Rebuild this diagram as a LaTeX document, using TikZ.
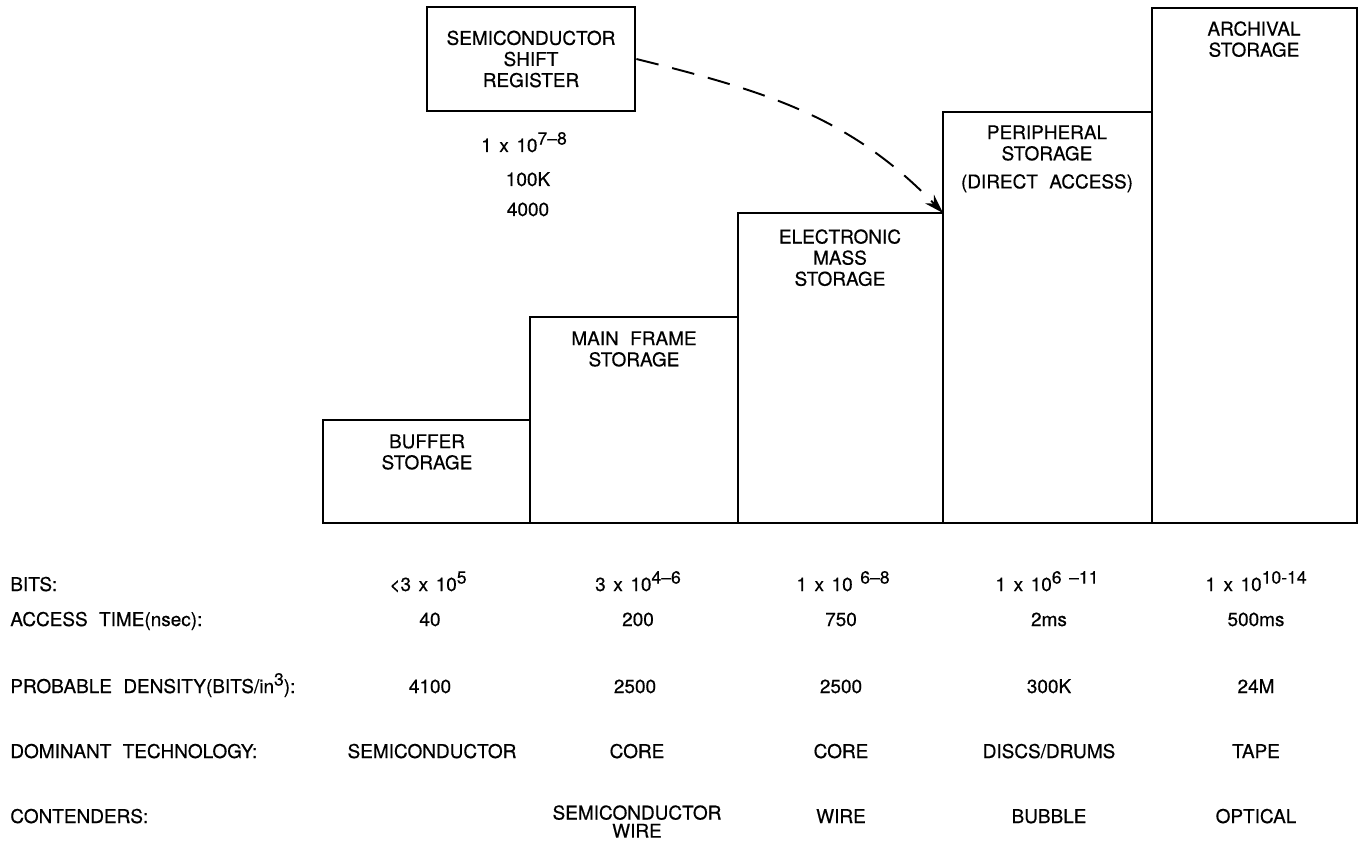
\documentclass[tikz,border=0pt]{standalone}
\usepackage{fontspec}
\setmainfont{TeX Gyre Heros}[FakeBold=0.5]
\usetikzlibrary{arrows.meta}
\newcommand{\up}[1]{\raisebox{0.75ex}{\fontsize{10}{10}\selectfont #1}}
\newcommand{\lettering}{\fontsize{10.8}{12}\selectfont\spaceskip=0.6em\relax}
\newcommand{\letteringnum}{\fontsize{10.8}{12}\selectfont\spaceskip=0.4em\relax}
\newcommand{\letteringtight}{\fontsize{10.8}{8.8}\selectfont\spaceskip=0.6em\relax}

\begin{document}
\begin{tikzpicture}[x=0.02cm,y=-0.02cm,
  bar/.style={line width=1.6pt},
  txt/.style={font=\lettering, align=center, inner sep=0pt},
  rowlbl/.style={txt, anchor=base west},
  val/.style={txt, font=\letteringnum, anchor=base}]
\useasboundingbox (0,0) rectangle (1359,841);

% storage levels
\draw[bar] (323,523) rectangle (530,420);
\draw[bar] (530,523) rectangle (738,317);
\draw[bar] (738,523) rectangle (943,213);
\draw[bar] (943,523) rectangle (1152,112);
\draw[bar] (1152,523) rectangle (1357,8);
\coordinate (emtop) at (943,213);

\node[txt, anchor=north] (buf) at (427,434) {BUFFER\\STORAGE};
\node[txt, anchor=north] (main) at (634,331) {MAIN FRAME\\STORAGE};
\node[txt, anchor=north] (emass) at (840,229) {ELECTRONIC\\MASS\\STORAGE};
\node[txt, anchor=north] (periph) at (1047,125) {PERIPHERAL\\STORAGE\\[4pt](DIRECT ACCESS)};
\node[txt, anchor=north] (arch) at (1254,21) {ARCHIVAL\\STORAGE};

% shift register
\node[txt, draw, bar, minimum width=4.16cm, minimum height=2.08cm] (shift) at (531,59) {SEMICONDUCTOR\\SHIFT\\REGISTER};
\node[val] (sbits) at (524,152) {1 x 10\up{7--8}};
\node[val] (sacc) at (528,186) {100K};
\node[val] (sden) at (528,216) {4000};
\draw[line width=1.1pt, dash pattern=on 13pt off 8pt, -{Stealth[length=11pt,width=7pt]}]
  (shift.east) to[out=-14,in=134] (emtop);

% table
\node[rowlbl] (lbits) at (10,591) {BITS:};
\node[rowlbl] (lacc) at (10,626) {ACCESS TIME(nsec):};
\node[rowlbl] (lden) at (10,693) {PROBABLE DENSITY(BITS/in\up{3}):};
\node[rowlbl] (ltech) at (10,758) {DOMINANT TECHNOLOGY:};
\node[rowlbl] (lcont) at (10,823) {CONTENDERS:};

\node[val] (b1) at (428,591) {<3 x 10\up{5}};
\node[val] (b2) at (638,591) {3 x 10\up{4--6}};
\node[val] (b3) at (843,591) {1 x 10 \up{6--8}};
\node[val] (b4) at (1047,591) {1 x 10\up{6 --11}};
\node[val] (b5) at (1256,591) {1 x 10\up{10-14}};

\node[val] (a1) at (430,626) {40};
\node[val] (a2) at (638,626) {200};
\node[val] (a3) at (841,626) {750};
\node[val] (a4) at (1049,626) {2ms};
\node[val] (a5) at (1256,626) {500ms};

\node[val] (d1) at (430,693) {4100};
\node[val] (d2) at (635,693) {2500};
\node[val] (d3) at (841,693) {2500};
\node[val] (d4) at (1049,693) {300K};
\node[val] (d5) at (1256,693) {24M};

\node[val] (t1) at (432,758) {SEMICONDUCTOR};
\node[val] (t2) at (637,758) {CORE};
\node[val] (t3) at (841,758) {CORE};
\node[val] (t4) at (1049,758) {DISCS/DRUMS};
\node[val] (t5) at (1256,758) {TAPE};

\node[txt, anchor=north, font=\letteringtight] (c2) at (637,805) {SEMICONDUCTOR\\[1.5pt]WIRE};
\node[val] (c3) at (841,823) {WIRE};
\node[val] (c4) at (1049,823) {BUBBLE};
\node[val] (c5) at (1256,823) {OPTICAL};
\end{tikzpicture}
\end{document}
